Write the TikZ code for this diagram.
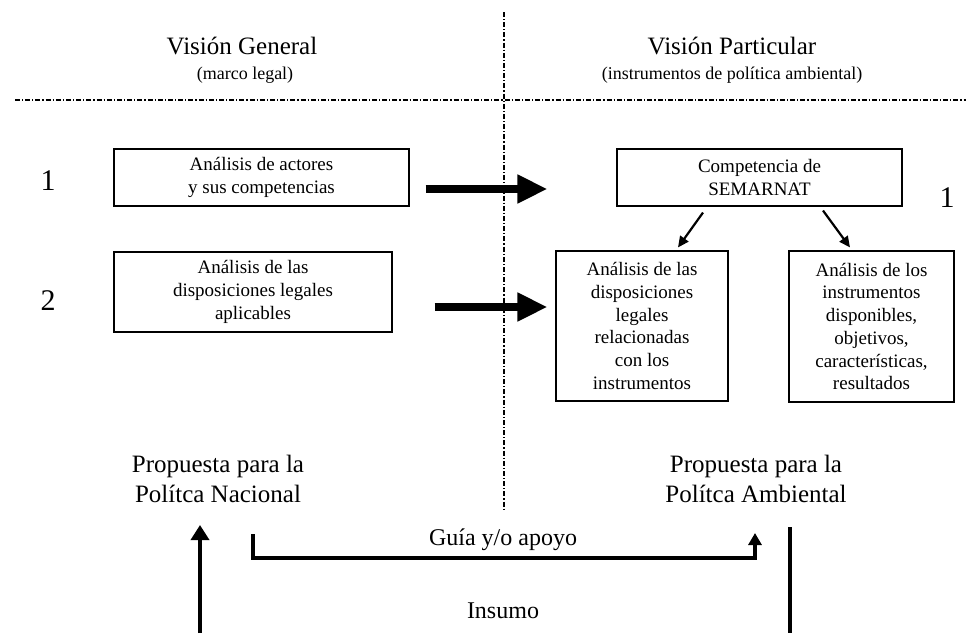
\documentclass[tikz,border=0pt]{standalone}
\usepackage{fontspec}
\setmainfont{Liberation Serif}
\usetikzlibrary{arrows.meta}
\begin{document}
\begin{tikzpicture}[x=1pt,y=-1pt,
  box/.style={draw, line width=1.1pt, align=center, inner sep=0pt, font=\fontsize{19}{22.7}\selectfont},
  sep/.style={line width=1.4pt, dash pattern=on 5pt off 2pt on 1.2pt off 2pt},
  fat/.style={line width=7.5pt, -{Triangle[length=30pt,width=27pt]}},
  thinarrow/.style={line width=2.2pt, -{Triangle[length=11pt,width=10pt]}},
  title/.style={font=\fontsize{25}{30}\selectfont, anchor=base},
  sub/.style={font=\fontsize{18}{22}\selectfont, anchor=base},
  num/.style={font=\fontsize{30}{32}\selectfont},
  prop/.style={font=\fontsize{25}{30}\selectfont, align=center, inner sep=0pt},
  lab/.style={font=\fontsize{24}{28}\selectfont, anchor=base},
]
\useasboundingbox (0,0) rectangle (966,633);

% separators
\coordinate (vT) at (504,12);
\coordinate (vB) at (504,510);
\coordinate (hL) at (15,100);
\coordinate (hR) at (966,100);
\draw[sep] (vT) -- (vB);
\draw[sep] (hL) -- (hR);

% titles
\node[title] (tg) at (242,54) {Visión General};
\node[sub] (sg) at (245,79) {(marco legal)};
\node[title] (tp) at (732,54) {Visión Particular};
\node[sub] (sp) at (732,79) {(instrumentos de política ambiental)};

% numbers
\node[num] (n1) at (48,181) {1};
\node[num] (n2) at (48,301) {2};
\node[num] (n1r) at (947,198) {1};

% boxes
\node[box, minimum width=295pt, minimum height=57pt] (a1) at (261.5,177.5) {Análisis de actores\\y sus competencias};
\node[box, minimum width=278pt, minimum height=80pt] (a2) at (253,292) {Análisis de las\\disposiciones legales\\aplicables};
\node[box, minimum width=285pt, minimum height=57pt] (sem) at (759.5,177.5) {Competencia de\\SEMARNAT};
\node[box, minimum width=172pt, minimum height=150pt] (b1) at (642,326) {Análisis de las\\disposiciones\\legales\\relacionadas\\con los\\instrumentos};
\node[box, minimum width=165pt, minimum height=151pt] (b2) at (871.5,326.5) {Análisis de los\\instrumentos\\disponibles,\\objetivos,\\características,\\resultados};

% fat arrows
\draw[fat] ([shift={(16,11.5)}]a1.east) -- ([shift={(-69,11.5)}]sem.west);
\draw[fat] ([shift={(42,15)}]a2.east) -- ([shift={(-8,-19)}]b1.west);

% thin arrows
\draw[thinarrow] ([shift={(-56.5,6)}]sem.south) -- ([shift={(36,-3)}]b1.north);
\draw[thinarrow] ([shift={(63.5,4)}]sem.south) -- ([shift={(-21.5,-3)}]b2.north);

% proposals
\node[prop] (pn) at (218,479) {Propuesta para la\\Polítca Nacional};
\node[prop] (pa) at (756,479) {Propuesta para la\\Polítca Ambiental};

% bottom labels
\node[lab] (guia) at (503,545) {Guía y/o apoyo};
\node[lab] (ins) at (503,618) {Insumo};

% bottom connectors
\coordinate (upS) at (200,633);
\coordinate (upE) at (200,525);
\draw[line width=3.5pt, -{Triangle[length=15pt,width=18pt]}] (upS) -- (upE);

\coordinate (brS) at (253,534);
\coordinate (brE) at (755,533);
\coordinate (bry) at (0,558);
\draw[line width=4pt, -{Triangle[length=12pt,width=13pt]}] (brS) -- (brS |- bry) -- (brE |- bry) -- (brE);

\coordinate (rvT) at (790,527);
\coordinate (rvB) at (790,633);
\draw[line width=3.5pt] (rvT) -- (rvB);
\end{tikzpicture}
\end{document}
